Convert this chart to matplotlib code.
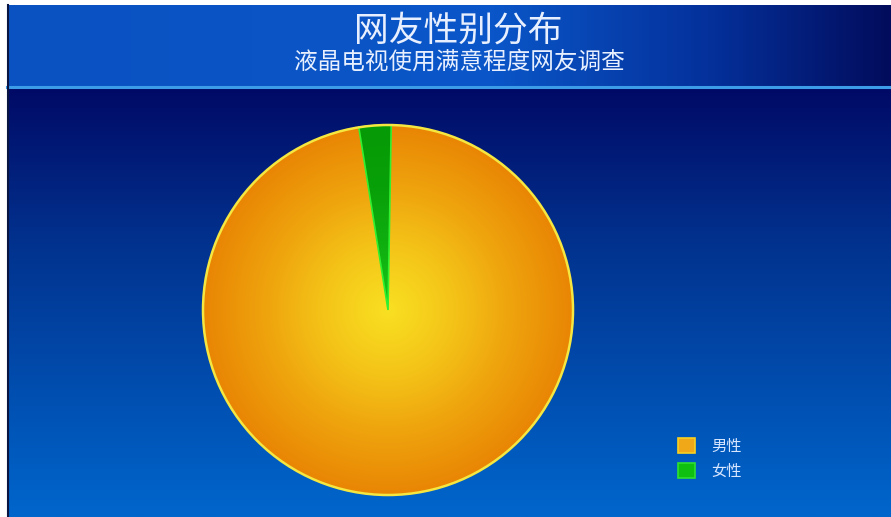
import numpy as np
import matplotlib
matplotlib.use("Agg")
import matplotlib.pyplot as plt
from matplotlib.colors import LinearSegmentedColormap
from matplotlib.patches import Patch

plt.rcParams['font.family'] = ['Noto Sans CJK SC', 'DejaVu Sans']

# data
labels = ['男性', '女性']
values = [97.2, 2.8]
title = '网友性别分布'
subtitle = '液晶电视使用满意程度网友调查'

W, H = 891, 517
fig = plt.figure(figsize=(W / 100, H / 100), dpi=100)
fig.patch.set_facecolor('white')

# background axes in pixel coords
bg = fig.add_axes([0, 0, 1, 1])
bg.set_xlim(0, W)
bg.set_ylim(H, 0)
bg.axis('off')

# header band: horizontal gradient
head_cmap = LinearSegmentedColormap.from_list(
    'head', [(0, '#0a52c2'), (0.55, '#0a56c8'), (0.8, '#04309a'), (1, '#020c5c')])
grad = np.linspace(0, 1, 256).reshape(1, -1)
bg.imshow(grad, cmap=head_cmap, extent=(7, W, 86, 5), aspect='auto', zorder=1)

# body: vertical gradient
body_cmap = LinearSegmentedColormap.from_list(
    'body', [(0, '#000a66'), (0.35, '#02318d'), (1, '#0066cc')])
vgrad = np.linspace(0, 1, 256).reshape(-1, 1)
bg.imshow(vgrad, cmap=body_cmap, extent=(7, W, H, 88), aspect='auto', zorder=1)

# separator line and left edge
bg.plot([7, W], [87, 87], color='#3c9ce8', lw=2.2, zorder=2)
bg.plot([7.5, 7.5], [5, H], color='#0a1440', lw=1.5, zorder=2)

bg.text(458, 31, title, color='#e8f0ff', fontsize=25, ha='center', va='center', zorder=3)
bg.text(459, 62, subtitle, color='#e8f0ff', fontsize=17, ha='center', va='center', zorder=3)

# pie axes: center (388, 310), radius 185 px, a little padding so the rim is not cut
cx, cy, r, pad = 388, 310, 185, 6
ext = (r + pad) / r
pax = fig.add_axes([(cx - r - pad) / W, 1 - (cy + r + pad) / H,
                    2 * (r + pad) / W, 2 * (r + pad) / H])
wedges, _ = pax.pie(values, startangle=89, counterclock=False,
                    wedgeprops=dict(linewidth=0))
pax.axis('off')

yy, xx = np.mgrid[-1:1:400j, -1:1:400j]
rr = np.sqrt(xx ** 2 + yy ** 2)
cmaps = [
    LinearSegmentedColormap.from_list(
        'm', [(0, '#f9e022'), (0.35, '#f4c418'), (0.7, '#eea00c'), (1, '#e98604')]),
    LinearSegmentedColormap.from_list('f', ['#18c818', '#10b010', '#08a008', '#069a06']),
]
for w, cm in zip(wedges, cmaps):
    w.set_facecolor('none')
    im = pax.imshow(rr, cmap=cm, vmin=0, vmax=1, extent=(-1, 1, -1, 1),
                    origin='lower', zorder=1)
    im.set_clip_path(w)

# bright green edges on the small wedge, yellow rim on the pie
f = wedges[1]
f.set_edgecolor('#30f030')
f.set_linewidth(1.2)
f.set_zorder(2)
rim = plt.Circle((0, 0), 1, fill=False, ec='#f5e640', lw=1.8, zorder=3)
pax.add_patch(rim)
pax.set_xlim(-ext, ext)
pax.set_ylim(-ext, ext)

handles = [Patch(facecolor='#f0a818', edgecolor='#f8d020', lw=1.2),
           Patch(facecolor='#10c010', edgecolor='#30e030', lw=1.2)]
leg = bg.legend(handles, labels, loc='upper left', bbox_to_anchor=(664 / W, 1 - 424 / H),
                frameon=False, fontsize=11, handlelength=1.1, handleheight=1.1,
                handletextpad=1.1, labelspacing=0.5)
for t in leg.get_texts():
    t.set_color('#d8e6ff')

fig.savefig('out.png', dpi=100)
